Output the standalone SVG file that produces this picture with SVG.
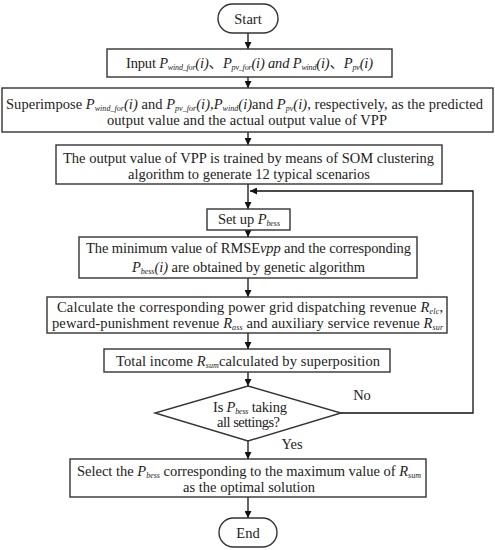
<svg xmlns="http://www.w3.org/2000/svg" width="495" height="550" viewBox="0 0 495 550">
<defs>
<marker id="ah" viewBox="0 0 10 10" refX="10" refY="5" markerWidth="7" markerHeight="7" orient="auto" markerUnits="userSpaceOnUse">
<path d="M0,0 L10,5 L0,10 z" fill="#111"/>
</marker>
</defs>
<style>
.box{fill:#fff;stroke:#333;stroke-width:1.4}
.t{font-family:"Liberation Serif","Noto Sans CJK SC",serif;font-size:14.5px;fill:#222;text-anchor:middle}
.i{font-style:italic}
.s{font-style:italic;font-size:8px}
.c{stroke:#111;stroke-width:1.3;fill:none}
</style>
<rect width="495" height="550" fill="#fff"/>
<g id="connectors">
<path class="c" d="M248,33 V49" marker-end="url(#ah)"/>
<path class="c" d="M248,77 V88" marker-end="url(#ah)"/>
<path class="c" d="M248,132 V145" marker-end="url(#ah)"/>
<path class="c" d="M248,184 V209" marker-end="url(#ah)"/>
<path class="c" d="M341,413 H473 V191 H250" marker-end="url(#ah)"/>
<path class="c" d="M248,230 V237" marker-end="url(#ah)"/>
<path class="c" d="M248,278 V297" marker-end="url(#ah)"/>
<path class="c" d="M248,333 V349" marker-end="url(#ah)"/>
<path class="c" d="M248,372 V386" marker-end="url(#ah)"/>
<path class="c" d="M248,441 V459" marker-end="url(#ah)"/>
<path class="c" d="M248,497 V518" marker-end="url(#ah)"/>
<text class="t" x="362" y="400">No</text>
<text class="t" x="292" y="449">Yes</text>
</g>
<g id="start">
<rect class="box" x="218" y="4" width="60" height="29" rx="14.5"/>
<text class="t" x="248" y="23.5">Start</text>
</g>
<g id="input">
<rect class="box" x="107" y="49" width="285" height="28"/>
<text class="t" x="249.5" y="67.5" textLength="247" lengthAdjust="spacing">Input <tspan class="i">P</tspan><tspan class="s" dy="2">wind_for</tspan><tspan class="i" dy="-2">(i)</tspan>、<tspan class="i">P</tspan><tspan class="s" dy="2">pv_for</tspan><tspan class="i" dy="-2">(i) and P</tspan><tspan class="s" dy="2">wind</tspan><tspan class="i" dy="-2">(i)</tspan>、<tspan class="i">P</tspan><tspan class="s" dy="2">pv</tspan><tspan class="i" dy="-2">(i)</tspan></text>
</g>
<g id="superimpose">
<rect class="box" x="2" y="88" width="491" height="44"/>
<text class="t" x="244.5" y="108.5" textLength="477" lengthAdjust="spacing">Superimpose <tspan class="i">P</tspan><tspan class="s" dy="2">wind_for</tspan><tspan class="i" dy="-2">(i)</tspan> and <tspan class="i">P</tspan><tspan class="s" dy="2">pv_for</tspan><tspan class="i" dy="-2">(i)</tspan>,<tspan class="i">P</tspan><tspan class="s" dy="2">wind</tspan><tspan class="i" dy="-2">(i)</tspan>and <tspan class="i">P</tspan><tspan class="s" dy="2">pv</tspan><tspan class="i" dy="-2">(i)</tspan>, respectively, as the predicted</text>
<text class="t" x="247" y="124.5" textLength="280" lengthAdjust="spacing">output value and the actual output value of VPP</text>
</g>
<g id="som">
<rect class="box" x="56" y="145" width="386" height="39"/>
<text class="t" x="248.5" y="162.5" textLength="371" lengthAdjust="spacing">The output value of VPP is trained by means of SOM clustering</text>
<text class="t" x="249" y="178.5" textLength="242" lengthAdjust="spacing">algorithm to generate 12 typical scenarios</text>
</g>
<g id="setup">
<rect class="box" x="207" y="209" width="83" height="21"/>
<text class="t" x="249" y="224" textLength="62" lengthAdjust="spacing">Set up <tspan class="i">P</tspan><tspan class="s" dy="2">bess</tspan></text>
</g>
<g id="rmse">
<rect class="box" x="79" y="237" width="338" height="41"/>
<text class="t" x="248.5" y="253" textLength="325" lengthAdjust="spacing">The minimum value of RMSE<tspan class="i">vpp</tspan> and the corresponding</text>
<text class="t" x="248.5" y="271.5" textLength="233" lengthAdjust="spacing"><tspan class="i">P</tspan><tspan class="s" dy="2">bess</tspan><tspan class="i" dy="-2">(i)</tspan> are obtained by genetic algorithm</text>
</g>
<g id="calc">
<rect class="box" x="47" y="297" width="400" height="36"/>
<text class="t" x="250" y="312" textLength="386" lengthAdjust="spacing">Calculate the corresponding power grid dispatching revenue <tspan class="i">R</tspan><tspan class="s" dy="2">elc</tspan><tspan dy="-2">,</tspan></text>
<text class="t" x="247.5" y="327.5" textLength="391" lengthAdjust="spacing">peward-punishment revenue <tspan class="i">R</tspan><tspan class="s" dy="2">ass</tspan><tspan dy="-2"> and auxiliary service revenue </tspan><tspan class="i">R</tspan><tspan class="s" dy="2">sur</tspan></text>
</g>
<g id="total">
<rect class="box" x="104" y="349" width="286" height="23"/>
<text class="t" x="248" y="365.5" textLength="264" lengthAdjust="spacing">Total income <tspan class="i">R</tspan><tspan class="s" dy="2">sum</tspan><tspan dy="-2">calculated by superposition</tspan></text>
</g>
<g id="decision">
<path class="box" d="M248,386 L341,413 L248,441 L155,413 Z"/>
<text class="t" x="250" y="411.5" textLength="74" lengthAdjust="spacing">Is <tspan class="i">P</tspan><tspan class="s" dy="2">bess</tspan><tspan dy="-2"> taking</tspan></text>
<text class="t" x="248.5" y="427" textLength="63" lengthAdjust="spacing">all settings?</text>
</g>
<g id="select">
<rect class="box" x="70" y="459" width="356" height="38"/>
<text class="t" x="249" y="475.5" textLength="344" lengthAdjust="spacing">Select the <tspan class="i">P</tspan><tspan class="s" dy="2">bess</tspan><tspan dy="-2"> corresponding to the maximum value of </tspan><tspan class="i">R</tspan><tspan class="s" dy="2">sum</tspan></text>
<text class="t" x="249" y="491.5" textLength="132" lengthAdjust="spacing">as the optimal solution</text>
</g>
<g id="end">
<rect class="box" x="219" y="518" width="58" height="29" rx="14.5"/>
<text class="t" x="248" y="537.5">End</text>
</g>
</svg>
